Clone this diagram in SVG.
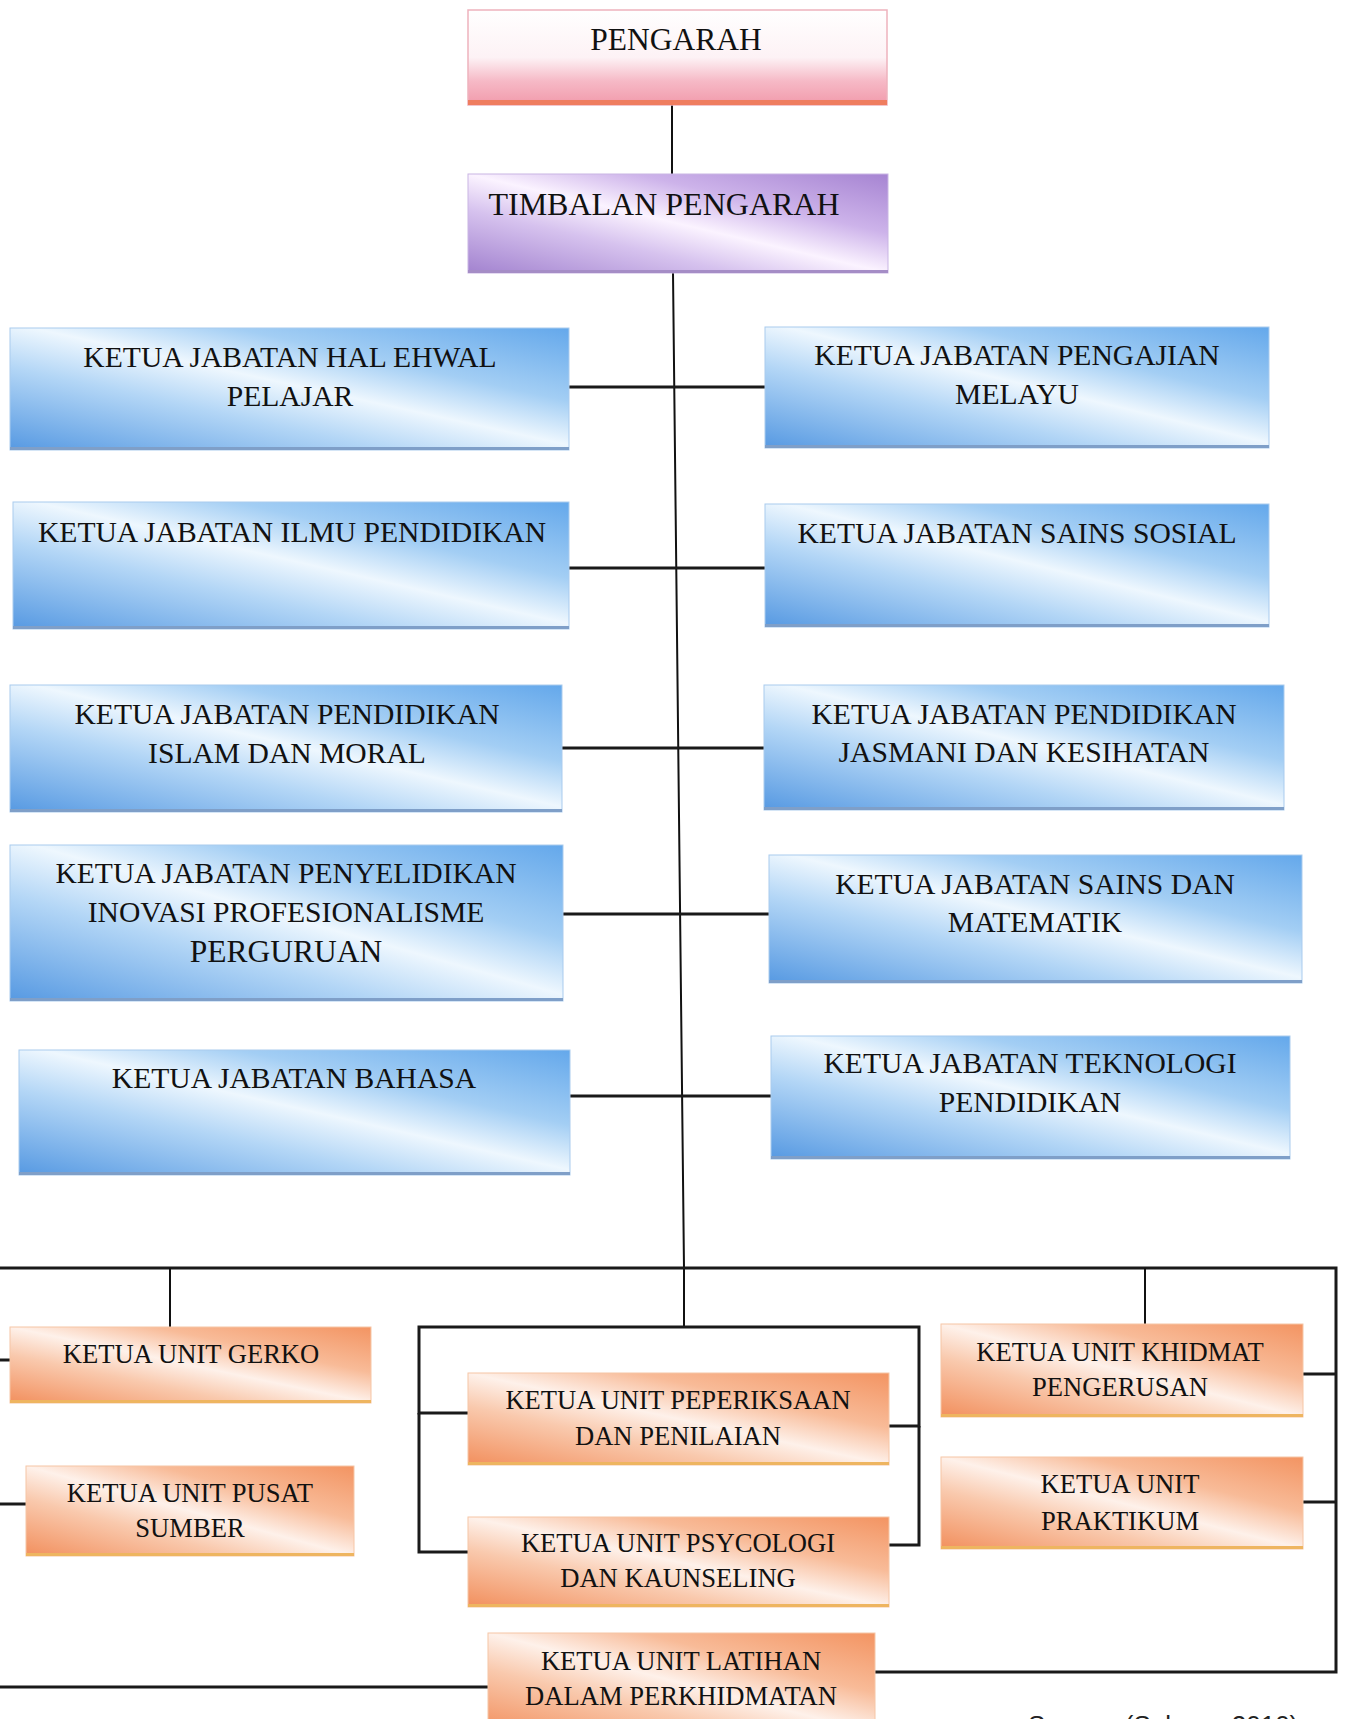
<svg xmlns="http://www.w3.org/2000/svg" width="1347" height="1719" viewBox="0 0 1347 1719">
<defs>
<linearGradient id="gBlue" x1="1" y1="0" x2="0" y2="1">
<stop offset="0" stop-color="#64a8eb"/>
<stop offset="0.3" stop-color="#a3cef4"/>
<stop offset="0.48" stop-color="#eef7fe"/>
<stop offset="0.66" stop-color="#b3d6f6"/>
<stop offset="1" stop-color="#5699e2"/>
</linearGradient>
<linearGradient id="gOrange" x1="1" y1="0" x2="0" y2="1">
<stop offset="0" stop-color="#f39462"/>
<stop offset="0.3" stop-color="#f8bb98"/>
<stop offset="0.5" stop-color="#fef1ea"/>
<stop offset="0.68" stop-color="#f9c9ad"/>
<stop offset="1" stop-color="#f28f5d"/>
</linearGradient>
<linearGradient id="gPurple" x1="1" y1="0" x2="0" y2="1">
<stop offset="0" stop-color="#a684d2"/>
<stop offset="0.3" stop-color="#cdb3ea"/>
<stop offset="0.5" stop-color="#fbf3ff"/>
<stop offset="0.68" stop-color="#d6c2ee"/>
<stop offset="1" stop-color="#a282cf"/>
</linearGradient>
<linearGradient id="gPink" x1="0" y1="0" x2="0" y2="1">
<stop offset="0" stop-color="#ffffff"/>
<stop offset="0.5" stop-color="#fdf2f5"/>
<stop offset="0.75" stop-color="#f6b9c6"/>
<stop offset="1" stop-color="#f19aab"/>
</linearGradient>
</defs>
<style>
text{font-family:"Liberation Serif","Times New Roman",serif;fill:#111;text-anchor:middle}
.t1{font-size:31.5px}
.t2{font-size:29.6px}
.t3{font-size:26.6px}
.blue{fill:url(#gBlue);stroke:#a9cbee;stroke-width:1}
.orange{fill:url(#gOrange);stroke:#f6c6a6;stroke-width:1}
.purple{fill:url(#gPurple);stroke:#c9b5e4;stroke-width:1}
.pink{fill:url(#gPink);stroke:#eeb2bd;stroke-width:1.5}
.bb{fill:#7f9fc8}
.ob{fill:#eeb560}
.conn{fill:none;stroke:#111;stroke-width:2}
.conn3{fill:none;stroke:#1a1a1a;stroke-width:3}
.src{font-family:"Liberation Sans",Arial,sans-serif;font-size:26px;text-anchor:start;fill:#222}
</style>

<g id="connectors">
<line class="conn" x1="672" y1="105" x2="672" y2="174"/>
<polyline class="conn" points="673,273 684,1268 684,1327"/>
<line class="conn3" x1="569" y1="387" x2="765" y2="387"/>
<line class="conn3" x1="569" y1="568" x2="769" y2="568"/>
<line class="conn3" x1="562" y1="748" x2="764" y2="748"/>
<line class="conn3" x1="563" y1="914" x2="769" y2="914"/>
<line class="conn3" x1="570" y1="1096" x2="771" y2="1096"/>
<polyline class="conn3" points="-2,1268 1336,1268 1336,1672 875,1672"/>
<line class="conn" x1="170" y1="1268" x2="170" y2="1327"/>
<line class="conn" x1="1145" y1="1268" x2="1145" y2="1324"/>
<line class="conn3" x1="-2" y1="1360" x2="10" y2="1360"/>
<line class="conn3" x1="-2" y1="1504" x2="26" y2="1504"/>
<line class="conn3" x1="-2" y1="1687" x2="488" y2="1687"/>
<polyline class="conn3" points="468,1413 419,1413 419,1327 919,1327 919,1426 889,1426"/>
<polyline class="conn3" points="468,1552 419,1552 419,1413"/>
<polyline class="conn3" points="889,1545 919,1545 919,1426"/>
<line class="conn3" x1="1303" y1="1374" x2="1336" y2="1374"/>
<line class="conn3" x1="1303" y1="1502" x2="1336" y2="1502"/>
</g>

<g id="pengarah">
<rect class="pink" x="468" y="10" width="419" height="95"/>
<rect x="468" y="100" width="419" height="5" fill="#ef7d5f"/>
<text class="t1" x="676" y="50">PENGARAH</text>
</g>

<g id="timbalan-pengarah">
<rect class="purple" x="468" y="174" width="420" height="99"/>
<rect x="468" y="270" width="420" height="3" fill="#a58dc6"/>
<text class="t1" x="664" y="215" style="font-size:32px">TIMBALAN PENGARAH</text>
</g>

<g id="hal-ehwal">
<rect class="blue" x="10" y="328" width="559" height="122"/>
<rect class="bb" x="10" y="447" width="559" height="3"/>
<text class="t2" x="290" y="367">KETUA JABATAN HAL EHWAL</text>
<text class="t2" x="290" y="406">PELAJAR</text>
</g>

<g id="pengajian-melayu">
<rect class="blue" x="765" y="327" width="504" height="121"/>
<rect class="bb" x="765" y="445" width="504" height="3"/>
<text class="t2" x="1017" y="365">KETUA JABATAN PENGAJIAN</text>
<text class="t2" x="1017" y="404">MELAYU</text>
</g>

<g id="ilmu-pendidikan">
<rect class="blue" x="13" y="502" width="556" height="127"/>
<rect class="bb" x="13" y="626" width="556" height="3"/>
<text class="t2" x="292" y="542">KETUA JABATAN ILMU PENDIDIKAN</text>
</g>

<g id="sains-sosial">
<rect class="blue" x="765" y="504" width="504" height="123"/>
<rect class="bb" x="765" y="624" width="504" height="3"/>
<text class="t2" x="1017" y="543">KETUA JABATAN SAINS SOSIAL</text>
</g>

<g id="pendidikan-islam">
<rect class="blue" x="10" y="685" width="552" height="127"/>
<rect class="bb" x="10" y="809" width="552" height="3"/>
<text class="t2" x="287" y="724">KETUA JABATAN PENDIDIKAN</text>
<text class="t2" x="287" y="763">ISLAM DAN MORAL</text>
</g>

<g id="pendidikan-jasmani">
<rect class="blue" x="764" y="685" width="520" height="125"/>
<rect class="bb" x="764" y="807" width="520" height="3"/>
<text class="t2" x="1024" y="724">KETUA JABATAN PENDIDIKAN</text>
<text class="t2" x="1024" y="762">JASMANI DAN KESIHATAN</text>
</g>

<g id="penyelidikan">
<rect class="blue" x="10" y="845" width="553" height="156"/>
<rect class="bb" x="10" y="998" width="553" height="3"/>
<text class="t2" x="286" y="883">KETUA JABATAN PENYELIDIKAN</text>
<text class="t2" x="286" y="922">INOVASI PROFESIONALISME</text>
<text class="t1" x="286" y="962">PERGURUAN</text>
</g>

<g id="sains-matematik">
<rect class="blue" x="769" y="855" width="533" height="128"/>
<rect class="bb" x="769" y="980" width="533" height="3"/>
<text class="t2" x="1035" y="894">KETUA JABATAN SAINS DAN</text>
<text class="t2" x="1035" y="932">MATEMATIK</text>
</g>

<g id="bahasa">
<rect class="blue" x="19" y="1050" width="551" height="125"/>
<rect class="bb" x="19" y="1172" width="551" height="3"/>
<text class="t2" x="294" y="1088">KETUA JABATAN BAHASA</text>
</g>

<g id="teknologi">
<rect class="blue" x="771" y="1036" width="519" height="123"/>
<rect class="bb" x="771" y="1156" width="519" height="3"/>
<text class="t2" x="1030" y="1073">KETUA JABATAN TEKNOLOGI</text>
<text class="t2" x="1030" y="1112">PENDIDIKAN</text>
</g>

<g id="gerko">
<rect class="orange" x="10" y="1327" width="361" height="76"/>
<rect class="ob" x="10" y="1400" width="361" height="3"/>
<text class="t3" x="191" y="1363">KETUA UNIT GERKO</text>
</g>

<g id="pusat-sumber">
<rect class="orange" x="26" y="1466" width="328" height="90"/>
<rect class="ob" x="26" y="1553" width="328" height="3"/>
<text class="t3" x="190" y="1502">KETUA UNIT PUSAT</text>
<text class="t3" x="190" y="1537">SUMBER</text>
</g>

<g id="peperiksaan">
<rect class="orange" x="468" y="1373" width="421" height="92"/>
<rect class="ob" x="468" y="1462" width="421" height="3"/>
<text class="t3" x="678" y="1409">KETUA UNIT PEPERIKSAAN</text>
<text class="t3" x="678" y="1445">DAN PENILAIAN</text>
</g>

<g id="psycologi">
<rect class="orange" x="468" y="1517" width="421" height="90"/>
<rect class="ob" x="468" y="1604" width="421" height="3"/>
<text class="t3" x="678" y="1552">KETUA UNIT PSYCOLOGI</text>
<text class="t3" x="678" y="1587">DAN KAUNSELING</text>
</g>

<g id="khidmat-pengerusan">
<rect class="orange" x="941" y="1324" width="362" height="93"/>
<rect class="ob" x="941" y="1414" width="362" height="3"/>
<text class="t3" x="1120" y="1361">KETUA UNIT KHIDMAT</text>
<text class="t3" x="1120" y="1396">PENGERUSAN</text>
</g>

<g id="praktikum">
<rect class="orange" x="941" y="1457" width="362" height="92"/>
<rect class="ob" x="941" y="1546" width="362" height="3"/>
<text class="t3" x="1120" y="1493">KETUA UNIT</text>
<text class="t3" x="1120" y="1530">PRAKTIKUM</text>
</g>

<g id="latihan">
<rect class="orange" x="488" y="1633" width="387" height="100"/>
<text class="t3" x="681" y="1670">KETUA UNIT LATIHAN</text>
<text class="t3" x="681" y="1705">DALAM PERKHIDMATAN</text>
</g>

<text class="src" x="1028" y="1734">Source: (Sabran, 2010)</text>
</svg>
